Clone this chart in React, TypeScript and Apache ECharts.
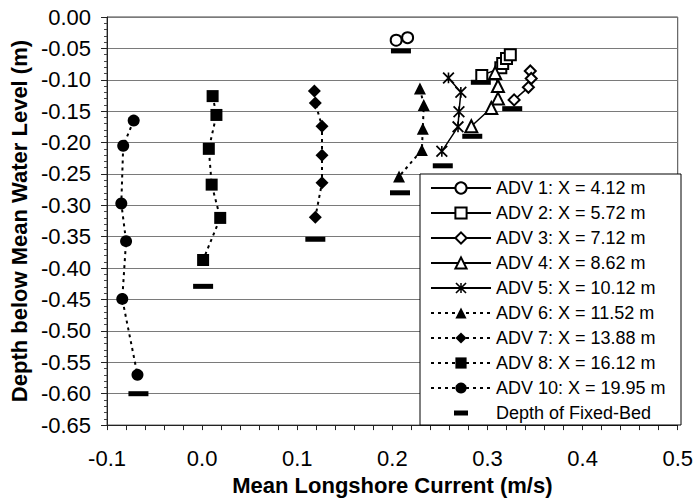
import React, { useEffect, useRef } from "react";
import * as echarts from "echarts";

// Measured profiles: [mean longshore current (m/s), depth below MWL (m)]
const adv1 = [[0.204, -0.037], [0.216, -0.033]];
const adv2 = [[0.294, -0.093], [0.314, -0.081], [0.316, -0.074], [0.32, -0.066], [0.324, -0.06]];
const adv3 = [[0.345, -0.086], [0.346, -0.098], [0.343, -0.112], [0.328, -0.132]];
const adv4 = [[0.308, -0.089], [0.311, -0.11], [0.311, -0.13], [0.304, -0.145], [0.283, -0.174]];
const adv5 = [[0.259, -0.097], [0.272, -0.12], [0.27, -0.151], [0.269, -0.175], [0.252, -0.214]];
const adv6 = [[0.229, -0.114], [0.233, -0.14], [0.232, -0.178], [0.231, -0.212], [0.207, -0.254]];
const adv7 = [[0.118, -0.118], [0.119, -0.137], [0.126, -0.174], [0.126, -0.22], [0.126, -0.264], [0.119, -0.319]];
const adv8 = [[0.011, -0.126], [0.015, -0.156], [0.007, -0.21], [0.01, -0.267], [0.019, -0.32], [0.001, -0.387]];
const adv10 = [[-0.072, -0.165], [-0.083, -0.205], [-0.085, -0.297], [-0.08, -0.357], [-0.084, -0.449], [-0.068, -0.57]];

// Depth of the fixed bed below each ADV
const fixedBed = [
  [0.209, -0.054], [0.293, -0.104], [0.326, -0.146], [0.284, -0.19], [0.253, -0.237],
  [0.208, -0.28], [0.119, -0.354], [0.001, -0.429], [-0.067, -0.6],
];

const seriesNames = [
  "ADV 1: X = 4.12 m",
  "ADV 2: X = 5.72 m",
  "ADV 3: X = 7.12 m",
  "ADV 4: X = 8.62 m",
  "ADV 5: X = 10.12 m",
  "ADV 6: X = 11.52 m",
  "ADV 7: X = 13.88 m",
  "ADV 8: X = 16.12 m",
  "ADV 10: X = 19.95 m",
  "Depth of Fixed-Bed",
];

const xRange = { min: -0.1, max: 0.5, step: 0.1 };
const yRange = { min: -0.65, max: 0, step: 0.05 };

// Asterisk marker: vertical bar plus two diagonals, all wound the same way
const d = 0.7;
const starPath =
  "path://M5.1,0L6.9,0L6.9,12L5.1,12Z" +
  `M${d},${-d}L${12 + d},${12 - d}L${12 - d},${12 + d}L${-d},${d}Z` +
  `M${12 - d},${-d}L${12 + d},${d}L${d},${12 + d}L${-d},${12 - d}Z`;

// Legend icon for the bed bar: invisible corner moves set the 60x14 box
const bedIcon = "path://M0,0M60,14M23,4.5L37,4.5L37,9.5L23,9.5Z";

const FONT = "'Liberation Sans', Arial, sans-serif";
const legendText = { fontFamily: FONT, fontSize: 18, color: "#000", lineHeight: 20 };

function profile(name: string, data: number[][], symbol: string, size: number, dotted: boolean) {
  return {
    name,
    type: "line",
    data,
    symbol,
    symbolSize: size,
    showSymbol: true,
    lineStyle: { color: "#000", width: dotted ? 2 : 1.5, type: dotted ? [3, 4] : "solid" },
    itemStyle: { color: "#000", borderColor: "#000", borderWidth: symbol.startsWith("empty") ? 1.2 : 0 },
    emphasis: { disabled: true },
    z: 3,
  };
}

export default function App() {
  const ref = useRef<HTMLDivElement>(null);

  useEffect(() => {
    if (!ref.current) return;
    const chart = echarts.init(ref.current, undefined, { renderer: "svg" });
    chart.setOption({
      animation: false,
      backgroundColor: "#fff",
      grid: {
        left: 107,
        right: 14,
        top: 17,
        bottom: 73,
        show: true,
        borderColor: "#444",
        borderWidth: 1,
        backgroundColor: "transparent",
      },
      xAxis: {
        type: "value",
        min: xRange.min,
        max: xRange.max,
        interval: xRange.step,
        name: "Mean Longshore Current (m/s)",
        nameLocation: "middle",
        nameGap: 44,
        nameTextStyle: { fontFamily: FONT, fontSize: 22, fontWeight: "bold", color: "#000" },
        axisLine: { show: true, onZero: false, lineStyle: { color: "#222", width: 1 } },
        axisTick: { show: true, length: 5, lineStyle: { color: "#222" } },
        minorTick: { show: true, splitNumber: 5, length: 5, lineStyle: { color: "#222" } },
        splitLine: { show: false },
        axisLabel: {
          fontFamily: FONT,
          fontSize: 22,
          color: "#000",
          margin: 22,
          formatter: (v: number) => (Math.abs(v) < 1e-9 ? 0 : v).toFixed(1),
        },
      },
      yAxis: {
        type: "value",
        min: yRange.min,
        max: yRange.max,
        interval: yRange.step,
        name: "Depth below Mean Water Level (m)",
        nameLocation: "middle",
        nameGap: 74,
        nameTextStyle: { fontFamily: FONT, fontSize: 22, fontWeight: "bold", color: "#000" },
        axisLine: { show: true, onZero: false, lineStyle: { color: "#222", width: 1 } },
        axisTick: { show: true, length: 6, lineStyle: { color: "#222" } },
        minorTick: { show: true, splitNumber: 5, length: 3, lineStyle: { color: "#444" } },
        splitLine: { show: true, lineStyle: { color: "#7a7a7a", width: 1 } },
        axisLabel: {
          fontFamily: FONT,
          fontSize: 22,
          color: "#000",
          margin: 16,
          formatter: (v: number) => (Math.abs(v) < 1e-9 ? 0 : v).toFixed(2),
        },
      },
      legend: {
        orient: "vertical",
        left: 430,
        top: 178,
        padding: 0,
        itemWidth: 60,
        itemHeight: 14,
        itemGap: 5,
        itemTextGap: 4,
        symbolKeepAspect: true,
        selectedMode: false,
        z: 10,
        textStyle: legendText,
        data: [
          ...seriesNames.slice(0, 9),
          {
            name: seriesNames[9],
            icon: bedIcon,
            itemStyle: { color: "#000", opacity: 1 },
            textStyle: legendText,
          },
        ],
      },
      graphic: [
        {
          type: "rect",
          z: 9,
          shape: { x: 420, y: 174, width: 261, height: 251 },
          style: { fill: "#fff", stroke: "#000", lineWidth: 1 },
          silent: true,
        },
      ],
      series: [
        profile(seriesNames[0], adv1, "emptyCircle", 11, false),
        profile(seriesNames[1], adv2, "emptyRect", 11, false),
        profile(seriesNames[2], adv3, "emptyDiamond", 11, false),
        profile(seriesNames[3], adv4, "emptyTriangle", 12, false),
        profile(seriesNames[4], adv5, starPath, 12, false),
        profile(seriesNames[5], adv6, "triangle", 12, true),
        profile(seriesNames[6], adv7, "diamond", 13, true),
        profile(seriesNames[7], adv8, "rect", 12, true),
        profile(seriesNames[8], adv10, "circle", 12, true),
        {
          name: seriesNames[9],
          type: "scatter",
          data: fixedBed,
          symbol: "rect",
          symbolSize: [20, 5],
          itemStyle: { color: "#000", opacity: 1 },
          emphasis: { disabled: true },
          z: 2,
        },
      ],
    });
    return () => chart.dispose();
  }, []);

  return (
    <div
      ref={ref}
      style={{ position: "absolute", left: 0, top: 0, width: 696, height: 501 }}
    />
  );
}
